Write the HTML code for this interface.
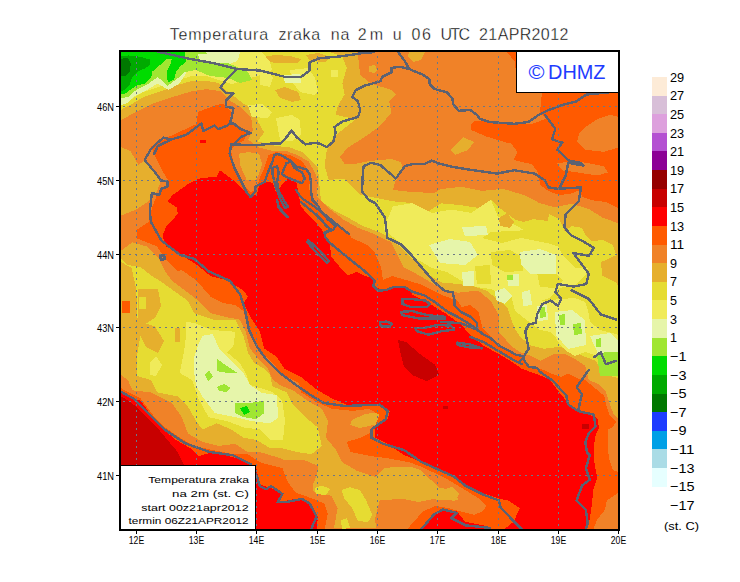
<!DOCTYPE html>
<html><head><meta charset="utf-8">
<style>
html,body{margin:0;padding:0;background:#fff;}
body{width:740px;height:582px;overflow:hidden;position:relative;}
svg{position:absolute;left:0;top:0;}
</style></head><body>
<svg width="740" height="582" viewBox="0 0 740 582">
<defs><clipPath id="mc"><rect x="121" y="52" width="497" height="477"/></clipPath></defs>
<rect x="0" y="0" width="740" height="582" fill="#fff"/>
<g clip-path="url(#mc)" shape-rendering="crispEdges">
<rect x="121" y="52" width="497" height="477" fill="#F08228"/>
<path d="M121.0,52.0 L357.0,52.0 L359.0,63.0 L360.0,75.0 L371.0,83.5 L391.5,90.0 L396.0,95.0 L389.0,101.0 L391.5,112.5 L380.0,126.0 L364.7,137.0 L346.8,148.3 L340.0,157.0 L344.6,164.0 L354.0,164.0 L369.0,161.0 L391.0,159.0 L401.0,162.0 L403.0,169.0 L395.0,182.0 L393.0,190.0 L411.0,192.0 L434.0,193.0 L441.0,189.0 L461.8,186.8 L482.4,190.9 L503.0,188.8 L523.6,195.0 L540.1,203.3 L554.4,207.2 L571.5,203.7 L588.7,208.9 L602.5,217.5 L616.2,222.6 L618.0,222.6 L618.0,418.0 L614.0,415.0 L610.0,405.0 L606.0,392.0 L598.0,384.0 L588.7,380.0 L585.3,365.9 L575.0,359.0 L564.7,353.9 L554.4,353.9 L540.6,360.8 L530.3,355.6 L520.0,352.2 L511.3,346.2 L498.9,331.8 L498.9,315.3 L490.7,300.9 L478.3,290.6 L457.7,292.7 L441.2,288.5 L420.6,276.2 L403.6,267.1 L397.5,254.8 L391.3,242.4 L374.8,234.2 L358.3,228.0 L343.9,219.8 L327.4,207.4 L317.1,197.1 L317.8,180.0 L314.7,172.2 L308.5,161.4 L297.7,155.2 L285.3,150.6 L271.4,150.6 L259.0,147.5 L248.2,139.8 L252.8,130.5 L251.3,118.0 L241.6,107.7 L231.3,101.5 L221.0,91.2 L206.5,89.2 L192.1,91.2 L171.5,97.4 L153.0,103.6 L136.5,111.8 L121.0,120.0 Z" fill="#E6AF2D"/>
<path d="M238.9,153.7 L248.2,152.1 L259.0,153.7 L262.1,164.5 L259.0,173.8 L255.9,180.0 L246.7,180.0 L240.5,166.1 Z" fill="#E6AF2D"/>
<path d="M463.0,137.0 L474.0,142.0 L468.0,150.0 L455.0,155.0 L451.0,150.0 Z" fill="#E6AF2D"/>
<path d="M121.0,147.0 L130.3,151.0 L138.5,165.0 L144.7,160.0 L155.0,172.4 L161.2,180.6 L157.1,190.9 L148.8,201.2 L136.5,209.5 L126.2,213.6 L121.0,215.6 Z" fill="#E6AF2D"/>
<path d="M121.0,250.7 L132.4,242.4 L146.8,246.5 L159.2,258.9 L165.3,271.3 L171.5,280.3 L188.0,292.7 L198.3,300.9 L210.7,313.3 L227.1,317.4 L239.5,319.5 L245.7,331.8 L249.8,348.3 L260.1,360.7 L268.2,368.9 L272.4,379.2 L280.6,385.4 L293.0,390.3 L307.4,400.6 L321.8,408.8 L328.0,421.2 L325.9,437.7 L336.2,450.1 L342.4,462.4 L356.8,470.7 L375.4,476.8 L383.6,468.6 L396.0,466.5 L410.0,466.5 L420.0,470.0 L431.0,480.0 L440.0,488.0 L455.0,490.0 L458.0,500.0 L440.0,500.0 L430.0,500.0 L405.0,515.0 L386.0,528.0 L334.0,528.0 L337.6,508.6 L331.1,495.7 L314.9,492.4 L303.5,484.3 L301.0,470.0 L280.6,458.3 L260.0,452.1 L247.8,452.1 L235.4,443.9 L218.9,445.9 L202.4,441.8 L188.0,433.6 L181.8,417.1 L171.5,402.7 L150.9,392.4 L132.4,390.3 L128.0,380.0 L121.0,375.0 Z" fill="#E6AF2D"/>
<path d="M352.0,420.0 L365.0,414.0 L380.0,412.0 L386.0,416.0 L378.0,424.0 L360.0,428.0 L350.0,425.0 Z" fill="#E6AF2D"/>
<path d="M442.0,490.0 L452.0,487.0 L459.0,494.0 L455.0,501.0 L444.0,499.0 Z" fill="#E6AF2D"/>
<path d="M409.0,52.0 L425.0,52.0 L421.0,60.0 L413.0,62.0 L408.0,57.0 Z" fill="#E6AF2D"/>
<path d="M121.0,52.0 L330.0,52.0 L342.3,56.7 L346.8,67.9 L342.3,83.5 L344.6,94.7 L337.9,105.8 L335.6,114.8 L355.7,119.2 L344.6,128.2 L333.4,137.1 L326.7,150.5 L324.5,166.1 L328.9,180.0 L344.3,178.6 L352.4,186.8 L360.5,194.9 L376.8,198.1 L393.0,201.3 L410.8,203.0 L420.5,212.7 L424.7,213.6 L441.2,203.3 L461.8,205.3 L488.6,209.5 L490.7,199.2 L498.9,207.4 L515.4,219.8 L523.6,221.8 L533.7,219.2 L547.5,220.9 L549.2,214.1 L559.5,219.2 L564.7,231.2 L571.5,226.1 L581.9,227.8 L585.3,234.7 L592.2,241.5 L602.5,239.8 L612.8,245.0 L616.2,255.3 L600.8,262.2 L602.5,275.9 L616.2,282.8 L618.0,286.0 L618.0,378.0 L610.0,376.0 L602.0,372.0 L595.6,360.8 L581.9,355.6 L571.5,348.7 L557.8,347.0 L544.1,348.7 L530.3,345.3 L520.0,336.7 L515.4,329.8 L511.3,319.5 L507.1,307.1 L496.8,298.8 L486.5,290.6 L474.2,286.5 L461.8,284.4 L441.2,282.4 L430.0,275.4 L420.1,267.1 L407.8,254.8 L397.5,244.5 L387.2,236.2 L376.8,231.1 L362.4,225.9 L352.1,219.8 L335.6,211.5 L321.2,201.2 L320.0,192.0 L319.0,180.0 L318.0,168.0 L308.0,158.0 L302.4,152.1 L290.0,147.5 L276.1,146.0 L257.5,141.3 L264.2,132.4 L258.1,122.1 L253.9,109.8 L243.6,103.6 L235.4,97.4 L227.2,91.2 L218.9,83.0 L206.5,80.9 L192.1,80.9 L177.7,85.0 L161.2,91.2 L142.7,97.4 L132.4,103.6 L121.0,109.8 Z" fill="#E6DC32"/>
<path d="M121.0,258.9 L128.2,265.1 L140.6,267.1 L150.9,275.4 L159.2,280.3 L173.6,290.6 L188.0,300.9 L194.2,313.3 L212.7,319.5 L235.4,319.5 L243.6,335.9 L247.8,352.4 L253.9,362.7 L264.2,368.9 L270.0,375.0 L272.4,386.2 L286.8,392.4 L293.0,404.7 L305.3,417.1 L317.7,427.4 L321.8,445.9 L311.5,454.2 L297.1,452.1 L280.6,448.0 L270.0,448.0 L256.0,439.8 L243.6,437.7 L231.3,429.5 L216.8,423.3 L202.4,429.5 L196.2,421.2 L188.0,406.8 L177.7,396.5 L157.1,392.4 L150.9,380.0 L137.0,376.0 L137.5,352.8 L140.5,335.3 L137.5,317.7 L136.0,288.5 L131.7,268.0 L121.0,262.0 Z" fill="#E6DC32"/>
<path d="M283.8,460.4 L305.0,460.4 L318.5,466.2 L316.5,475.8 L312.7,485.4 L314.6,504.6 L310.8,516.2 L303.1,500.8 L295.4,487.3 L285.8,473.8 Z" fill="#F08228"/>
<path d="M341.5,490.0 L350.0,487.3 L360.0,490.0 L366.0,500.0 L372.3,515.0 L368.0,522.0 L358.0,521.0 L352.0,508.0 L344.0,498.0 Z" fill="#E6DC32"/>
<path d="M314.6,488.0 L322.0,485.4 L330.0,489.0 L326.0,495.0 L316.0,494.0 Z" fill="#E6DC32"/>
<path d="M341.0,520.0 L347.0,518.0 L350.0,528.0 L342.0,529.0 Z" fill="#E6DC32"/>
<path d="M441.4,490.7 L454.4,490.7 L457.6,497.2 L447.9,500.4 L441.4,497.2 Z" fill="#E6AF2D"/>
<path d="M379.7,500.4 L402.5,498.8 L418.7,502.0 L434.9,498.8 L444.6,506.9 L451.1,526.4 L444.6,529.0 L376.5,529.0 L374.9,519.9 Z" fill="#F08228"/>
<path d="M137.5,288.5 L158.0,288.5 L161.0,306.0 L155.0,317.7 L146.0,323.6 L155.0,326.5 L164.0,341.0 L158.0,352.8 L146.0,347.0 L140.0,335.0 L137.5,317.7 Z" fill="#E6AF2D"/>
<path d="M139.0,297.0 L146.0,297.0 L146.0,309.0 L139.0,309.0 Z" fill="#E6DC32"/>
<path d="M150.0,362.0 L156.0,356.0 L162.0,365.0 L156.0,376.0 L150.0,375.0 Z" fill="#F0EB5A"/>
<path d="M175.0,328.0 L180.0,328.0 L180.0,342.0 L175.0,342.0 Z" fill="#E6AF2D"/>
<path d="M369.0,66.0 L375.0,65.0 L377.0,70.0 L374.0,73.0 L369.0,72.0 Z" fill="#E6AF2D"/>
<path d="M331.0,70.0 L338.0,70.0 L338.0,77.0 L331.0,77.0 Z" fill="#F0EB5A"/>
<path d="M262.0,57.0 L275.0,55.0 L290.0,56.0 L301.0,59.0 L298.0,63.0 L280.0,63.0 L266.0,62.0 Z" fill="#E6AF2D"/>
<path d="M306.0,55.0 L318.0,53.0 L330.0,57.0 L326.0,62.0 L310.0,61.0 Z" fill="#E6AF2D"/>
<path d="M260.0,72.0 L268.0,70.0 L273.0,78.0 L270.0,87.0 L260.0,85.0 Z" fill="#F0EB5A"/>
<path d="M290.0,70.0 L308.0,68.0 L315.0,78.0 L318.0,92.0 L314.0,95.0 L300.0,92.0 L292.0,82.0 Z" fill="#F0EB5A"/>
<path d="M248.0,105.0 L262.0,104.0 L272.0,112.0 L268.0,118.0 L252.0,117.0 Z" fill="#F0EB5A"/>
<path d="M275.0,90.0 L285.0,87.0 L298.0,92.0 L301.0,100.0 L292.0,102.0 L280.0,98.0 Z" fill="#E6AF2D"/>
<path d="M276.0,118.0 L292.0,115.0 L300.0,120.0 L301.0,135.0 L292.0,141.0 L280.0,140.0 Z" fill="#F0EB5A"/>
<path d="M393.0,206.3 L412.7,203.1 L432.2,212.9 L451.8,209.6 L471.4,212.9 L491.0,199.8 L497.6,216.1 L517.1,225.9 L533.5,235.7 L556.3,242.2 L562.9,255.3 L575.9,268.4 L588.0,268.0 L585.0,276.0 L575.9,284.7 L559.6,288.0 L549.8,297.8 L540.0,301.0 L528.0,300.0 L515.0,296.0 L500.0,294.0 L491.0,289.0 L476.0,287.0 L460.0,280.0 L447.0,272.0 L432.0,268.0 L415.9,258.6 L399.6,242.2 L383.3,229.2 Z" fill="#F0EB5A"/>
<path d="M520.0,280.0 L535.0,280.0 L537.0,290.0 L533.0,300.0 L545.0,301.0 L560.0,299.0 L575.0,298.0 L585.0,302.0 L588.0,310.0 L590.0,322.0 L600.0,330.0 L612.0,333.0 L618.0,335.0 L618.0,365.0 L605.0,362.0 L595.0,355.0 L585.0,352.0 L575.0,356.0 L565.0,350.0 L560.0,345.0 L555.0,336.0 L550.0,332.0 L540.0,330.0 L528.0,321.0 L515.0,311.0 L511.0,295.0 Z" fill="#F0EB5A"/>
<path d="M491.0,252.0 L510.0,250.0 L524.0,258.0 L523.0,271.0 L505.0,272.0 L492.0,265.0 Z" fill="#E6DC32"/>
<path d="M475.0,266.0 L490.0,265.0 L491.0,284.0 L477.0,284.0 Z" fill="#E6DC32"/>
<path d="M537.0,272.0 L552.0,270.0 L563.0,280.0 L556.0,288.0 L540.0,287.0 Z" fill="#E6DC32"/>
<path d="M499.0,218.0 L507.0,213.0 L514.0,222.0 L510.0,228.0 L500.0,226.0 Z" fill="#E6AF2D"/>
<path d="M482.0,238.0 L491.0,232.0 L530.0,230.0 L560.0,230.0 L560.0,247.0 L547.0,243.0 L521.0,238.0 L502.0,243.0 Z" fill="#E6DC32"/>
<path d="M186.0,321.5 L196.2,323.6 L210.7,329.8 L235.4,331.8 L233.3,346.2 L227.1,352.4 L239.5,362.7 L245.7,373.0 L250.0,385.0 L260.0,388.0 L272.0,392.0 L282.0,400.0 L285.0,420.0 L283.0,440.0 L270.0,440.0 L260.1,429.5 L243.6,427.4 L227.1,421.2 L208.6,417.1 L198.3,398.5 L192.1,380.0 L179.8,373.0 L183.9,352.4 L186.0,335.9 Z" fill="#F0EB5A"/>
<path d="M121.0,52.0 L262.0,52.0 L270.0,62.0 L272.0,70.0 L260.0,75.0 L245.0,80.0 L232.0,84.0 L218.0,80.0 L206.0,76.0 L192.0,76.0 L178.0,80.0 L161.0,86.0 L143.0,92.0 L132.0,99.0 L121.0,105.0 Z" fill="#F0EB5A"/>
<path d="M121.0,52.0 L240.0,52.0 L238.0,60.0 L230.0,64.0 L215.0,66.0 L200.0,67.3 L195.7,68.4 L187.0,71.6 L179.5,83.5 L168.6,90.0 L157.8,83.5 L147.0,90.0 L134.1,96.5 L127.6,103.0 L121.0,105.0 Z" fill="#E6F5AA"/>
<path d="M198.3,344.2 L202.4,335.9 L212.7,333.9 L218.9,348.3 L231.3,360.7 L243.6,373.0 L250.0,385.0 L262.0,393.0 L277.0,395.0 L278.0,418.0 L270.0,423.3 L251.9,421.2 L235.4,417.1 L214.8,413.0 L202.4,396.5 L196.0,385.0 L194.2,373.0 L194.2,356.5 Z" fill="#E6F5AA"/>
<path d="M429.0,245.0 L450.0,239.0 L470.0,242.0 L478.0,255.0 L465.0,265.0 L440.0,263.0 Z" fill="#E6F5AA"/>
<path d="M462.0,227.0 L486.0,226.0 L488.0,235.0 L465.0,236.0 Z" fill="#E6F5AA"/>
<path d="M520.0,252.0 L540.0,249.0 L556.0,255.0 L556.0,274.0 L530.0,274.0 L521.0,265.0 Z" fill="#E6F5AA"/>
<path d="M522.0,292.0 L530.0,290.0 L532.0,305.0 L523.0,306.0 Z" fill="#E6F5AA"/>
<path d="M537.0,306.0 L547.0,305.0 L548.0,320.0 L538.0,321.0 Z" fill="#E6F5AA"/>
<path d="M555.0,312.0 L572.0,310.0 L585.0,320.0 L586.0,345.0 L568.0,349.0 L556.0,335.0 Z" fill="#E6F5AA"/>
<path d="M590.0,336.0 L610.0,333.0 L618.0,340.0 L618.0,359.0 L600.0,358.0 Z" fill="#E6F5AA"/>
<path d="M462.0,272.0 L474.0,271.0 L474.0,286.0 L463.0,286.0 Z" fill="#E6F5AA"/>
<path d="M507.0,275.0 L519.0,274.0 L519.0,286.0 L508.0,286.0 Z" fill="#E6F5AA"/>
<path d="M495.0,291.0 L505.0,288.0 L512.0,296.0 L505.0,304.0 L496.0,300.0 Z" fill="#E6F5AA"/>
<path d="M283.0,75.0 L300.0,74.0 L301.0,83.0 L285.0,83.0 Z" fill="#E6F5AA"/>
<path d="M121.0,52.0 L205.0,52.0 L215.0,58.0 L235.0,66.0 L248.0,72.0 L252.0,80.0 L240.0,83.0 L228.0,78.0 L210.0,76.0 L195.7,70.0 L184.9,72.0 L179.5,77.0 L167.6,85.7 L157.8,77.0 L147.0,84.6 L136.2,90.0 L128.6,96.5 L121.0,98.6 Z" fill="#A0E632"/>
<path d="M198.0,54.0 L236.0,54.0 L236.0,62.0 L215.0,63.0 L200.0,62.0 Z" fill="#E6F5AA"/>
<path d="M235.4,402.7 L251.9,402.7 L264.2,400.6 L264.2,413.0 L256.0,419.2 L243.6,417.1 L235.4,413.0 Z" fill="#A0E632"/>
<path d="M217.0,387.0 L224.0,384.0 L231.0,388.0 L226.0,392.0 L219.0,391.0 Z" fill="#A0E632"/>
<path d="M216.8,358.6 L225.1,364.8 L237.5,373.0 L227.1,373.0 L216.8,371.0 Z" fill="#A0E632"/>
<path d="M205.0,375.0 L209.0,370.0 L213.0,377.0 L208.0,381.0 Z" fill="#A0E632"/>
<path d="M539.0,308.0 L545.0,307.0 L546.0,317.0 L540.0,318.0 Z" fill="#A0E632"/>
<path d="M559.0,315.0 L565.0,314.0 L565.0,325.0 L560.0,325.0 Z" fill="#A0E632"/>
<path d="M573.0,324.0 L581.0,323.0 L582.0,334.0 L574.0,335.0 Z" fill="#A0E632"/>
<path d="M596.0,339.0 L601.0,338.0 L601.0,347.0 L596.0,347.0 Z" fill="#A0E632"/>
<path d="M597.0,356.0 L605.0,352.0 L618.0,352.0 L618.0,376.0 L600.0,376.0 Z" fill="#A0E632"/>
<path d="M507.0,275.0 L513.0,275.0 L513.0,280.0 L507.0,280.0 Z" fill="#A0E632"/>
<path d="M121.0,52.0 L184.9,52.0 L185.9,61.9 L180.5,66.2 L176.2,71.6 L174.1,79.2 L168.6,82.4 L166.5,78.1 L166.5,71.6 L170.8,63.0 L171.9,58.6 L166.5,58.6 L161.1,64.1 L152.4,71.6 L151.4,77.0 L144.9,83.5 L136.2,85.7 L128.6,91.1 L124.3,94.3 L121.0,94.3 Z" fill="#00DC00"/>
<path d="M240.0,408.0 L247.0,406.0 L250.0,412.0 L244.0,415.0 Z" fill="#00DC00"/>
<path d="M121.0,56.5 L128.6,55.4 L141.6,57.0 L150.3,59.7 L149.7,65.1 L144.9,68.4 L137.3,71.6 L131.9,78.1 L129.7,84.6 L124.3,90.0 L121.0,91.0 Z" fill="#00AA00"/>
<path d="M121.0,59.7 L124.3,57.6 L128.6,58.6 L130.8,64.0 L129.7,71.6 L125.4,76.0 L121.0,76.5 Z" fill="#007800"/>
<path d="M150.9,146.8 L169.5,136.5 L196.2,124.2 L198.3,111.8 L214.8,105.6 L223.0,103.6 L231.3,111.8 L229.2,122.1 L239.5,126.2 L247.8,132.4 L243.6,140.7 L235.4,144.8 L231.0,150.0 L234.0,165.0 L238.0,175.0 L244.0,185.0 L250.0,192.0 L256.0,190.0 L259.0,180.0 L263.7,169.1 L268.3,155.2 L276.1,152.1 L290.0,155.2 L302.4,161.4 L308.0,170.0 L310.9,176.5 L309.0,187.0 L311.0,199.0 L321.2,209.5 L333.6,221.8 L345.9,230.1 L352.1,238.3 L366.5,244.5 L374.8,252.7 L381.0,267.1 L383.0,280.0 L392.0,276.0 L400.0,278.2 L420.6,284.4 L441.2,294.7 L457.7,300.9 L461.8,307.1 L470.1,305.0 L478.3,311.2 L482.4,328.0 L490.0,336.0 L500.0,346.0 L508.5,350.5 L515.4,354.6 L522.2,357.0 L529.0,366.0 L544.2,370.0 L550.9,373.4 L561.2,376.9 L568.1,373.4 L578.4,378.6 L585.3,380.3 L593.9,387.2 L604.2,395.8 L605.9,404.4 L609.3,414.7 L616.2,421.5 L612.8,426.7 L607.6,430.1 L607.6,447.3 L609.3,459.3 L612.8,470.0 L618.0,472.0 L618.0,493.0 L606.8,500.5 L604.9,510.0 L597.3,519.5 L593.5,529.0 L407.4,529.0 L423.2,511.2 L435.5,506.0 L447.8,508.0 L458.4,511.0 L474.2,514.7 L483.0,511.2 L486.0,506.0 L479.5,498.9 L465.4,490.1 L447.8,479.6 L433.8,472.6 L420.6,466.5 L410.0,462.4 L387.8,458.3 L371.3,456.2 L350.7,452.1 L346.5,441.8 L360.0,438.0 L370.0,433.0 L375.4,425.0 L379.5,415.0 L369.2,408.8 L352.7,410.9 L332.1,408.8 L317.7,402.7 L301.2,392.4 L299.2,383.3 L282.7,375.1 L272.4,362.7 L260.0,350.4 L253.9,338.0 L247.8,327.7 L243.6,311.2 L235.4,305.0 L223.0,303.0 L210.7,296.8 L196.2,280.3 L181.8,270.0 L177.7,271.3 L165.3,258.9 L157.1,246.5 L136.5,238.3 L136.5,230.1 L148.8,221.8 L152.0,207.4 L157.1,195.0 L169.5,182.7 L163.3,172.4 L157.1,160.0 Z" fill="#FF5A00"/>
<path d="M121.0,388.2 L140.6,398.5 L153.0,415.0 L165.3,427.4 L179.8,437.7 L194.2,445.9 L212.7,450.0 L233.3,454.2 L247.8,454.2 L260.1,462.4 L282.4,468.1 L287.3,481.1 L295.4,492.4 L313.2,498.9 L324.6,503.8 L327.8,513.5 L324.6,529.0 L121.0,529.0 Z" fill="#FF5A00"/>
<path d="M507.0,52.0 L618.0,52.0 L618.0,208.9 L616.2,207.2 L605.9,202.0 L592.2,200.3 L581.9,196.9 L580.1,190.0 L571.5,193.4 L559.5,195.2 L548.3,190.9 L540.1,184.8 L538.0,172.4 L531.8,164.2 L513.3,160.0 L517.4,151.8 L511.2,143.6 L507.1,142.7 L486.5,136.5 L471.0,130.0 L471.1,124.2 L474.1,120.9 L490.6,120.9 L511.2,123.0 L531.8,124.0 L546.0,118.8 L540.0,112.7 L542.0,92.0 L516.0,92.0 L515.4,62.4 Z" fill="#FF5A00"/>
<path d="M585.4,127.1 L597.8,118.8 L610.1,114.7 L618.0,116.8 L618.0,147.7 L604.0,151.8 L585.4,149.8 L577.1,141.5 L579.2,133.3 Z" fill="#F08228"/>
<path d="M556.5,163.2 L577.1,161.1 L603.9,166.2 L608.1,172.4 L597.8,175.5 L577.1,172.4 L562.7,170.4 Z" fill="#F08228"/>
<path d="M122.0,301.0 L130.0,301.0 L130.0,313.0 L122.0,313.0 Z" fill="#FF5A00"/>
<path d="M167.5,201.2 L172.7,195.0 L187.1,184.7 L199.5,178.5 L217.0,176.5 L220.0,170.3 L228.3,176.5 L236.5,182.7 L244.8,190.9 L251.0,197.1 L257.1,194.0 L259.0,186.2 L266.8,181.5 L273.0,183.1 L276.1,192.4 L282.2,184.6 L288.2,178.5 L296.5,182.7 L298.5,193.0 L300.6,205.3 L306.8,213.6 L317.1,223.9 L325.3,234.2 L329.5,242.4 L331.5,256.8 L339.8,267.1 L348.0,275.4 L356.8,272.0 L365.0,276.0 L373.3,278.2 L375.4,286.5 L383.6,290.6 L400.1,286.5 L410.0,290.0 L412.4,294.7 L428.8,303.0 L445.3,313.3 L461.8,325.0 L470.0,335.0 L484.0,346.0 L497.5,353.2 L511.2,361.5 L522.2,369.0 L533.9,373.0 L544.2,377.0 L550.0,380.0 L557.8,390.6 L566.4,400.9 L575.0,409.5 L588.7,414.7 L597.3,418.1 L599.0,428.4 L595.6,435.3 L593.9,445.6 L593.9,459.3 L595.6,470.0 L597.3,477.8 L593.5,489.2 L591.6,506.2 L589.7,519.5 L586.0,529.0 L504.6,529.0 L514.0,521.3 L519.7,508.1 L508.4,500.5 L498.9,498.6 L490.0,495.4 L479.5,491.9 L465.4,484.9 L451.4,474.3 L439.1,469.1 L421.5,462.0 L403.9,455.0 L387.8,443.9 L375.4,437.7 L375.4,427.4 L387.8,419.2 L389.8,410.9 L379.5,404.7 L363.0,404.7 L346.5,404.7 L332.1,398.5 L317.7,390.3 L301.2,377.1 L284.7,368.9 L276.5,356.5 L264.1,348.3 L260.1,331.8 L251.9,319.5 L243.6,303.0 L247.8,296.8 L243.6,290.6 L227.1,280.3 L210.7,276.2 L197.4,265.1 L180.9,254.8 L166.5,246.5 L162.4,236.2 L166.5,225.9 L172.7,219.8 L177.8,213.6 L176.8,207.4 Z" fill="#FF0000"/>
<path d="M121.0,392.4 L128.2,396.5 L140.6,400.6 L150.9,415.0 L161.2,427.4 L175.6,439.8 L190.1,448.0 L198.3,456.2 L212.7,452.1 L229.2,456.2 L243.6,460.4 L256.0,466.5 L259.7,484.3 L269.5,487.6 L282.4,492.4 L279.2,502.2 L295.4,498.9 L303.5,498.9 L313.2,508.6 L318.1,516.8 L316.5,529.0 L121.0,529.0 Z" fill="#FF0000"/>
<path d="M421.5,529.0 L433.8,514.7 L442.6,509.5 L456.6,511.2 L465.4,521.8 L483.0,525.3 L490.0,527.0 L490.0,529.0 Z" fill="#FF0000"/>
<path d="M121.0,396.5 L128.2,400.6 L136.5,406.8 L146.8,417.1 L157.1,427.4 L167.4,439.8 L177.7,452.1 L183.9,464.5 L190.0,480.0 L200.0,529.0 L121.0,529.0 Z" fill="#C80000"/>
<path d="M398.0,340.0 L406.0,342.0 L420.6,354.5 L435.0,364.8 L439.2,375.1 L426.8,381.3 L412.4,375.1 L404.1,366.8 L401.0,355.0 Z" fill="#C80000"/>
<path d="M582.0,424.0 L589.0,424.0 L589.0,429.0 L582.0,429.0 Z" fill="#C80000"/>
<path d="M200.0,140.0 L206.0,140.0 L206.0,143.0 L200.0,143.0 Z" fill="#FF0000"/>
<path d="M443.0,406.0 L448.0,406.0 L448.0,409.0 L443.0,409.0 Z" fill="#C80000"/>
</g>
<g clip-path="url(#mc)" fill="none" stroke="#5C6272" stroke-width="2.4" stroke-linejoin="round" stroke-linecap="round" shape-rendering="crispEdges">
<path d="M157.8,51.7 L188.7,58.6 L216.2,63.7 L236.8,68.9 L260.0,70.6 L284.7,76.8 L301.2,76.8 L309.5,70.6 L309.5,62.4 L319.8,58.2 L342.4,56.2 L364.7,52.7 L373.6,52.2"/>
<path d="M398.2,52.2 L404.9,61.2 L409.3,69.0 L411.6,70.1 L422.7,74.6 L429.4,79.0 L429.7,84.0 L434.6,89.0 L446.8,92.2 L452.4,98.7 L453.2,104.3 L458.9,110.8 L470.3,110.0 L476.8,114.9 L480.0,118.9 L490.2,122.1 L514.2,123.8 L528.0,122.1 L538.3,115.2 L548.6,110.1 L562.3,104.9 L576.0,101.5 L586.3,94.6 L603.5,92.9 L618.0,91.2"/>
<path d="M409.3,69.0 L400.4,66.8 L391.5,67.9 L391.5,72.3 L382.5,76.8 L380.3,81.3 L364.7,85.7 L355.7,90.2 L352.4,96.9 L358.0,101.4 L360.2,110.3 L358.0,117.0 L342.3,121.5 L334.5,127.1 L335.6,132.6 L333.4,141.6 L326.7,147.2 L320.0,143.8 L314.7,142.8 L305.4,144.4 L296.2,136.7 L291.5,130.5 L286.9,136.7 L280.7,143.6 L271.4,143.6 L255.9,145.2 L231.2,144.4"/>
<path d="M236.8,68.9 L225.9,80.0 L220.3,87.6 L225.9,93.2 L233.5,93.2 L225.9,100.8 L225.9,106.5 L233.5,108.4 L231.6,117.8 L229.7,123.5 L233.5,123.5 L241.1,129.2 L250.5,133.0 L241.1,136.8 L233.5,144.3 L231.2,144.4"/>
<path d="M171.1,139.6 L165.4,142.4 L157.8,146.2 L154.1,153.8"/>
<path d="M229.7,123.5 L227.8,125.4 L218.4,129.2 L214.6,125.4 L203.2,131.1 L201.3,123.5 L186.2,134.9 L171.1,139.6 L163.5,137.7 L157.8,142.4 L150.3,150.0 L144.7,160.0 L155.0,172.4 L161.2,180.6 L167.4,181.0 L167.4,186.8 L161.2,188.8 L159.2,195.0 L151.9,193.0 L150.9,201.2 L149.9,211.5 L150.9,221.8 L161.2,240.4 L179.8,254.8 L194.2,258.9 L208.6,271.3 L229.9,280.9 L240.2,294.6 L245.0,310.0 L249.0,330.0 L257.4,347.2 L266.0,359.0 L280.0,373.0 L296.0,385.0 L312.0,396.0 L324.0,403.0 L345.0,406.0 L370.0,405.0 L379.5,404.7 L387.8,410.9 L385.7,419.2 L371.3,429.5 L371.3,437.7 L383.6,443.9 L404.2,450.1 L410.0,454.2 L421.5,462.0 L437.3,469.1 L453.1,476.1 L465.4,485.7 L483.0,494.5 L498.9,500.5 L500.8,508.1 L521.6,528.9"/>
<path d="M231.2,144.4 L229.6,153.7 L234.3,167.6 L240.5,180.0 L246.7,192.4 L250.8,197.2 L255.5,191.0 L255.5,186.4 L264.7,181.8 L267.8,172.5 L272.5,161.6 L274.0,155.5 L277.1,153.9 L281.8,155.5 L289.5,160.1 L295.7,166.3 L306.5,169.4 L309.6,174.0 L311.1,183.3 L311.1,192.6 L312.7,200.3 L317.3,204.9 L322.0,212.7 L328.5,219.9 L335.7,225.9 L333.3,229.5 L324.9,233.1 L324.9,236.7 L329.7,242.7 L341.8,252.7 L352.0,261.0 L362.4,269.2 L370.0,276.0 L374.9,281.1 L373.2,285.9 L378.1,290.8 L386.2,290.0 L394.3,286.8 L404.1,286.8 L412.2,291.6 L425.1,295.7 L434.9,302.2 L441.3,307.0 L447.8,311.9 L457.6,316.8 L465.7,321.6 L475.4,328.1 L483.5,334.6 L490.0,337.8 L500.2,346.4 L508.5,350.5 L515.4,354.6 L522.2,356.0 L525.0,361.5 L529.1,367.0 L537.3,367.9 L539.9,371.8 L552.8,380.8 L566.4,395.8 L568.1,404.4 L578.4,411.2 L593.9,414.7 L595.6,426.7 L588.7,433.6 L585.3,442.2 L587.0,452.5 L589.7,455.1 L585.9,468.4 L589.7,479.7 L582.2,485.4 L576.5,500.5 L585.9,510.0 L587.8,523.2 L585.9,529.0"/>
<path d="M160.0,256.0 L164.0,255.0 L165.0,259.0 L161.0,260.0 L160.0,256.0"/>
<path d="M272.5,167.8 L277.1,166.3 L278.7,172.5 L277.1,181.8 L278.7,191.0 L284.8,201.9 L287.9,206.5 L284.8,208.0 L280.2,198.8 L275.6,186.4 L272.5,174.0 L272.5,167.8"/>
<path d="M277.1,200.3 L278.7,208.0 L286.4,215.8 L287.9,217.3 L283.3,212.7 L277.9,205.0"/>
<path d="M281.8,174.0 L286.4,163.2 L291.0,161.6 L294.1,167.8 L301.9,172.5 L304.9,178.7 L301.9,183.3 L294.1,180.2 L286.4,177.1 L281.8,174.0"/>
<path d="M300.8,201.8 L308.0,207.9 L315.3,213.9 L322.5,221.1 L326.1,225.9 L330.9,229.5 L323.7,233.1"/>
<path d="M303.0,199.0 L315.0,207.0 L328.0,217.0 L340.0,227.0 L349.0,234.0"/>
<path d="M308.0,240.0 L318.0,249.0 L329.0,261.0 L327.0,263.0 L316.0,252.0 L307.0,242.0"/>
<path d="M470.0,336.7 L483.7,342.2 L497.5,350.5 L511.2,358.7 L522.2,364.2"/>
<path d="M296.0,190.0 L300.0,196.0 L304.0,200.0"/>
<path d="M402.4,298.9 L410.5,298.9 L425.1,300.5 L430.0,303.8 L426.8,307.0 L410.5,307.0 L402.4,303.8 L402.4,298.9"/>
<path d="M400.8,311.9 L412.2,311.1 L426.8,315.1 L444.6,316.8 L444.6,319.2 L434.9,318.4 L418.6,318.4 L402.4,315.1 L400.8,311.9"/>
<path d="M379.7,322.5 L386.0,321.6 L391.9,323.5 L390.0,326.5 L382.0,326.5 L379.7,324.5 L379.7,322.5"/>
<path d="M415.4,328.1 L423.5,328.1 L438.1,324.9 L451.1,325.7 L454.3,329.7 L441.3,331.3 L428.4,334.6 L417.0,331.3 L415.4,328.1"/>
<path d="M441.0,322.0 L460.0,323.0 L477.0,329.7 L483.5,334.6"/>
<path d="M457.6,342.7 L470.0,344.5 L481.9,348.4 L470.0,347.5 L457.6,345.0 L457.6,342.7"/>
<path d="M440.0,163.9 L431.7,160.6 L425.0,163.9 L413.8,163.9 L404.9,166.1 L395.9,178.4 L389.2,172.8 L380.3,165.0 L371.4,162.8 L363.6,166.1 L362.4,180.0 L362.2,191.6 L368.6,199.7 L375.1,203.0 L384.9,217.6 L387.4,237.8 L401.1,244.6 L411.4,254.9 L415.4,260.0 L425.1,271.4 L434.9,282.7 L444.6,290.8 L452.7,292.4 L454.3,298.9 L454.3,305.4 L460.8,311.9 L470.5,316.8 L477.0,323.2 L477.0,329.7"/>
<path d="M440.0,163.9 L452.4,166.8 L473.0,170.2 L497.1,173.6 L514.2,170.2 L534.8,173.6 L545.1,180.5 L548.6,187.4 L558.9,189.1"/>
<path d="M545.1,115.2 L555.4,129.0 L552.0,139.3 L562.3,142.7 L557.2,149.6 L557.9,150.0 L568.2,160.3 L581.1,162.9 L583.7,165.5 L568.2,162.9 L565.7,175.8 L559.2,188.7 L581.1,187.4 L578.6,201.5 L565.7,214.4 L564.4,227.3 L570.8,235.1 L581.1,240.2 L594.0,247.9 L588.9,255.7 L573.4,253.1 L581.1,263.4 L588.9,273.7 L586.3,284.0 L573.4,286.6 L557.9,284.0 L555.4,291.8 L561.2,298.9 L557.8,305.8 L550.9,300.6 L542.3,304.1 L537.2,314.4 L535.5,323.0 L528.6,324.7 L525.2,331.5 L528.6,348.7 L523.4,357.3 L520.0,360.8"/>
<path d="M571.5,290.3 L588.7,298.9 L600.8,314.4 L616.2,319.5"/>
<path d="M588.7,370.0 L576.7,387.2 L581.9,394.0 L578.4,409.5"/>
<path d="M593.9,357.3 L600.8,352.2 L605.9,364.2 L616.2,360.8"/>
<path d="M121.0,391.8 L133.7,398.7 L147.5,412.4 L164.6,429.6 L185.2,443.3 L209.3,451.9 L233.3,455.3 L250.5,463.9 L257.4,477.7 L259.7,486.0 L266.2,489.2 L271.1,486.0 L282.4,494.0 L277.6,502.2 L285.7,502.2 L301.9,498.9 L310.0,503.8 L316.5,516.8 L311.6,528.1"/>
<path d="M421.5,528.8 L433.8,514.7 L442.6,509.5 L456.6,513.0 L451.4,518.2 L465.4,525.3 L490.0,527.9"/>
</g>
<g clip-path="url(#mc)" stroke="#6A7888" stroke-width="1" stroke-dasharray="2,4" shape-rendering="crispEdges">
<line x1="136.5" y1="50" x2="136.5" y2="529"/>
<line x1="196.5" y1="50" x2="196.5" y2="529"/>
<line x1="256.5" y1="50" x2="256.5" y2="529"/>
<line x1="317.5" y1="50" x2="317.5" y2="529"/>
<line x1="377.5" y1="50" x2="377.5" y2="529"/>
<line x1="437.5" y1="50" x2="437.5" y2="529"/>
<line x1="498.5" y1="50" x2="498.5" y2="529"/>
<line x1="558.5" y1="50" x2="558.5" y2="529"/>
<line x1="123" y1="106.5" x2="618" y2="106.5"/>
<line x1="123" y1="180.5" x2="618" y2="180.5"/>
<line x1="123" y1="254.5" x2="618" y2="254.5"/>
<line x1="123" y1="327.5" x2="618" y2="327.5"/>
<line x1="123" y1="401.5" x2="618" y2="401.5"/>
<line x1="123" y1="475.5" x2="618" y2="475.5"/>
</g>
<path d="M119,50 H620 V531 H119 Z M121,52 V529 H618 V52 Z" fill="#000" fill-rule="evenodd" shape-rendering="crispEdges"/>
<rect x="516" y="52" width="102" height="41" fill="#000" shape-rendering="crispEdges"/><rect x="517" y="52" width="101" height="40" fill="#fff" shape-rendering="crispEdges"/>
<text x="528.5" y="78.6" font-family="Liberation Sans, sans-serif" font-size="19.5" fill="#1E3CFF" textLength="16" lengthAdjust="spacingAndGlyphs">©</text>
<text x="548" y="78.6" font-family="Liberation Sans, sans-serif" font-size="19.5" fill="#1E3CFF" textLength="57.5" lengthAdjust="spacingAndGlyphs">DHMZ</text>
<rect x="121" y="465" width="135" height="64" fill="#000" shape-rendering="crispEdges"/><rect x="121" y="466" width="134" height="63" fill="#fff" shape-rendering="crispEdges"/>
<g font-family="Liberation Sans, sans-serif" font-size="9.8" fill="#000">
<text x="148.3" y="483.4" textLength="100.8" lengthAdjust="spacingAndGlyphs">Temperatura zraka</text>
<text x="172.1" y="496.8" textLength="76.8" lengthAdjust="spacingAndGlyphs">na 2m (st. C)</text>
<text x="141.3" y="510.6" textLength="107.3" lengthAdjust="spacingAndGlyphs">start 00z21apr2012</text>
<text x="128.6" y="524" textLength="120.0" lengthAdjust="spacingAndGlyphs">termin 06Z21APR2012</text>
</g>
<g fill="#000" shape-rendering="crispEdges"><rect x="136" y="531" width="1" height="3"/>
<rect x="196" y="531" width="1" height="3"/>
<rect x="256" y="531" width="1" height="3"/>
<rect x="317" y="531" width="1" height="3"/>
<rect x="377" y="531" width="1" height="3"/>
<rect x="437" y="531" width="1" height="3"/>
<rect x="498" y="531" width="1" height="3"/>
<rect x="558" y="531" width="1" height="3"/>
<rect x="618" y="531" width="1" height="3"/>
<rect x="116" y="106" width="3" height="1"/>
<rect x="116" y="180" width="3" height="1"/>
<rect x="116" y="254" width="3" height="1"/>
<rect x="116" y="327" width="3" height="1"/>
<rect x="116" y="401" width="3" height="1"/>
<rect x="116" y="475" width="3" height="1"/></g>
<g font-family="Liberation Sans, sans-serif" font-size="11.8" fill="#000" stroke="none">
<text x="128.8" y="543.8" textLength="15.4" lengthAdjust="spacingAndGlyphs">12E</text>
<text x="188.8" y="543.8" textLength="15.4" lengthAdjust="spacingAndGlyphs">13E</text>
<text x="248.8" y="543.8" textLength="15.4" lengthAdjust="spacingAndGlyphs">14E</text>
<text x="309.8" y="543.8" textLength="15.4" lengthAdjust="spacingAndGlyphs">15E</text>
<text x="369.8" y="543.8" textLength="15.4" lengthAdjust="spacingAndGlyphs">16E</text>
<text x="429.8" y="543.8" textLength="15.4" lengthAdjust="spacingAndGlyphs">17E</text>
<text x="490.8" y="543.8" textLength="15.4" lengthAdjust="spacingAndGlyphs">18E</text>
<text x="550.8" y="543.8" textLength="15.4" lengthAdjust="spacingAndGlyphs">19E</text>
<text x="610.8" y="543.8" textLength="15.4" lengthAdjust="spacingAndGlyphs">20E</text>
<text x="97" y="110.7" textLength="17" lengthAdjust="spacingAndGlyphs">46N</text>
<text x="97" y="184.7" textLength="17" lengthAdjust="spacingAndGlyphs">45N</text>
<text x="97" y="258.7" textLength="17" lengthAdjust="spacingAndGlyphs">44N</text>
<text x="97" y="331.7" textLength="17" lengthAdjust="spacingAndGlyphs">43N</text>
<text x="97" y="405.7" textLength="17" lengthAdjust="spacingAndGlyphs">42N</text>
<text x="97" y="479.7" textLength="17" lengthAdjust="spacingAndGlyphs">41N</text>
</g>
<g shape-rendering="crispEdges">
<rect x="652" y="77.00" width="15" height="18.92" fill="#FDEBD7"/>
<rect x="652" y="95.62" width="15" height="18.92" fill="#D8BFD8"/>
<rect x="652" y="114.24" width="15" height="18.92" fill="#DDA0DD"/>
<rect x="652" y="132.86" width="15" height="18.92" fill="#B450D2"/>
<rect x="652" y="151.48" width="15" height="18.92" fill="#8C0096"/>
<rect x="652" y="170.10" width="15" height="18.92" fill="#960000"/>
<rect x="652" y="188.72" width="15" height="18.92" fill="#C80000"/>
<rect x="652" y="207.34" width="15" height="18.92" fill="#FF0000"/>
<rect x="652" y="225.96" width="15" height="18.92" fill="#FF5A00"/>
<rect x="652" y="244.58" width="15" height="18.92" fill="#F08228"/>
<rect x="652" y="263.20" width="15" height="18.92" fill="#E6AF2D"/>
<rect x="652" y="281.82" width="15" height="18.92" fill="#E6DC32"/>
<rect x="652" y="300.44" width="15" height="18.92" fill="#F0EB5A"/>
<rect x="652" y="319.06" width="15" height="18.92" fill="#E6F5AA"/>
<rect x="652" y="337.68" width="15" height="18.92" fill="#A0E632"/>
<rect x="652" y="356.30" width="15" height="18.92" fill="#00DC00"/>
<rect x="652" y="374.92" width="15" height="18.92" fill="#00AA00"/>
<rect x="652" y="393.54" width="15" height="18.92" fill="#007800"/>
<rect x="652" y="412.16" width="15" height="18.92" fill="#1E3CFF"/>
<rect x="652" y="430.78" width="15" height="18.92" fill="#00A0E6"/>
<rect x="652" y="449.40" width="15" height="18.92" fill="#AADCE6"/>
<rect x="652" y="468.02" width="15" height="18.92" fill="#E6FFFF"/>
</g>
<g font-family="Liberation Sans, sans-serif" font-size="13" fill="#000">
<text x="670" y="81.6" textLength="14.2" lengthAdjust="spacingAndGlyphs">29</text>
<text x="670" y="100.2" textLength="14.2" lengthAdjust="spacingAndGlyphs">27</text>
<text x="670" y="118.8" textLength="14.2" lengthAdjust="spacingAndGlyphs">25</text>
<text x="670" y="137.5" textLength="14.2" lengthAdjust="spacingAndGlyphs">23</text>
<text x="670" y="156.1" textLength="14.2" lengthAdjust="spacingAndGlyphs">21</text>
<text x="670" y="174.7" textLength="14.2" lengthAdjust="spacingAndGlyphs">19</text>
<text x="670" y="193.3" textLength="14.2" lengthAdjust="spacingAndGlyphs">17</text>
<text x="670" y="211.9" textLength="14.2" lengthAdjust="spacingAndGlyphs">15</text>
<text x="670" y="230.6" textLength="14.2" lengthAdjust="spacingAndGlyphs">13</text>
<text x="670" y="249.2" textLength="14.2" lengthAdjust="spacingAndGlyphs">11</text>
<text x="670" y="267.8" textLength="7" lengthAdjust="spacingAndGlyphs">9</text>
<text x="670" y="286.4" textLength="7" lengthAdjust="spacingAndGlyphs">7</text>
<text x="670" y="305.0" textLength="7" lengthAdjust="spacingAndGlyphs">5</text>
<text x="670" y="323.7" textLength="7" lengthAdjust="spacingAndGlyphs">3</text>
<text x="670" y="342.3" textLength="7" lengthAdjust="spacingAndGlyphs">1</text>
<text x="670" y="360.9" textLength="16.5" lengthAdjust="spacingAndGlyphs">−1</text>
<text x="670" y="379.5" textLength="16.5" lengthAdjust="spacingAndGlyphs">−3</text>
<text x="670" y="398.1" textLength="16.5" lengthAdjust="spacingAndGlyphs">−5</text>
<text x="670" y="416.8" textLength="16.5" lengthAdjust="spacingAndGlyphs">−7</text>
<text x="670" y="435.4" textLength="16.5" lengthAdjust="spacingAndGlyphs">−9</text>
<text x="670" y="454.0" textLength="24.5" lengthAdjust="spacingAndGlyphs">−11</text>
<text x="670" y="472.6" textLength="24.5" lengthAdjust="spacingAndGlyphs">−13</text>
<text x="670" y="491.2" textLength="24.5" lengthAdjust="spacingAndGlyphs">−15</text>
<text x="670" y="509.9" textLength="24.5" lengthAdjust="spacingAndGlyphs">−17</text>
<text x="664" y="529.5" textLength="35" lengthAdjust="spacingAndGlyphs" font-size="11.5">(st. C)</text>
</g>
<g font-family="Liberation Sans, sans-serif" font-size="16" fill="#000" stroke="#fff" stroke-width="0.35" paint-order="fill stroke">
<text x="169.7" y="39.6" textLength="98.4" lengthAdjust="spacing">Temperatura</text>
<text x="278.4" y="39.6" textLength="41.7" lengthAdjust="spacing">zraka</text>
<text x="330.7" y="39.6" textLength="18.7" lengthAdjust="spacing">na</text>
<text x="357.7" y="39.6" textLength="25.5" lengthAdjust="spacing">2m</text>
<text x="392.8" y="39.6" textLength="9.4" lengthAdjust="spacing">u</text>
<text x="411.4" y="39.6" textLength="19.4" lengthAdjust="spacing">06</text>
<text x="440.4" y="39.6" textLength="29.6" lengthAdjust="spacing">UTC</text>
<text x="479.1" y="39.6" textLength="89.2" lengthAdjust="spacing">21APR2012</text>
</g>
</svg>
</body></html>
